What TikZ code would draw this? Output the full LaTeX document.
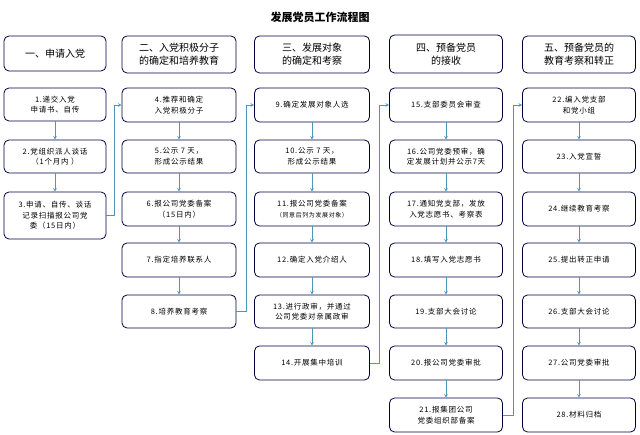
\documentclass[tikz,border=0pt]{standalone}
\usepackage{fontspec}
\setmainfont{Noto Sans CJK SC}
\newfontfamily\spaced[LetterSpace=10]{Noto Sans CJK SC}
\begin{document}
\begin{tikzpicture}[x=1pt,y=-1pt,
 box/.style={draw=black!75!blue,line width=0.8pt,rounded corners=5pt,align=center,font=\spaced\fontsize{7.5}{10.5}\selectfont,inner sep=0pt},
 hd/.style={box,font=\fontsize{10}{13}\selectfont},
 ar/.style={draw=blue!30!cyan!60!black!70,line width=0.6pt,->,>=stealth}]
\useasboundingbox (0,0) rectangle (640,435);
\fill[white] (0,0) rectangle (640,435);
\node[font=\fontsize{11}{13}\selectfont\bfseries] (title) at (320,17) {发展党员工作流程图};
\newcommand\mybx[6]{\node[box,minimum width=#5,minimum height=#4-#3] (#1) at (#2,{(#3+#4)/2}) {#6};}
\newcommand\myhd[6]{\node[hd,minimum width=#5,minimum height=#4-#3] (#1) at (#2,{(#3+#4)/2}) {#6};}
\myhd{h1}{55}{36}{71}{102}{一、申请入党}
\myhd{h2}{179}{36}{73}{114}{二、入党积极分子\\的确定和培养教育}
\myhd{h3}{312}{36}{73}{115}{三、发展对象\\的确定和考察}
\myhd{h4}{446}{35}{73}{113}{四、预备党员\\的接收}
\myhd{h5}{579}{36}{73}{113}{五、预备党员的\\教育考察和转正}
% col1
\mybx{b1}{55}{88}{121}{102}{1.递交入党\\申请书、自传}
\mybx{b2}{55}{140}{173}{102}{2.党组织派人谈话\\（1个月内 ）}
\mybx{b3}{55}{192}{239}{102}{3.申请、自传、谈话\\记录扫描报公司党\\委（15日内）}
% col2
\mybx{b4}{179}{88}{122}{114}{4.推荐和确定\\入党积极分子}
\mybx{b5}{179}{140}{173}{114}{5.公示 7 天，\\形成公示结果}
\mybx{b6}{179}{192}{226}{114}{6.报公司党委备案\\（15日内）}
\mybx{b7}{179}{243}{277}{114}{7.指定培养联系人}
\mybx{b8}{179}{295}{328}{114}{8.培养教育考察}
% col3
\mybx{b9}{312}{88}{122}{115}{9.确定发展对象人选}
\mybx{b10}{312}{140}{173}{115}{10.公示 7 天，\\形成公示结果}
\mybx{b11}{312}{192}{226}{115}{11.报公司党委备案\\{\fontsize{6}{8}\selectfont（同意后列为发展对象）}}
\mybx{b12}{312}{243}{277}{115}{12.确定入党介绍人}
\mybx{b13}{312}{295}{328}{115}{13.进行政审，并通过\\公司党委对亲属政审}
\mybx{b14}{312}{346}{380}{115}{14.开展集中培训}
% col4
\mybx{b15}{446}{88}{122}{113}{15.支部委员会审查}
\mybx{b16}{446}{140}{173}{113}{16.公司党委预审，确\\定发展计划并公示7天}
\mybx{b17}{446}{192}{226}{113}{17.通知党支部，发放\\入党志愿书、考察表}
\mybx{b18}{446}{243}{277}{113}{18.填写入党志愿书}
\mybx{b19}{446}{295}{328}{113}{19.支部大会讨论}
\mybx{b20}{446}{346}{380}{113}{20.报公司党委审批}
\mybx{b21}{446}{398}{432}{113}{21.报集团公司\\党委组织部备案}
% col5
\mybx{b22}{579}{88}{122}{113}{22.编入党支部\\和党小组}
\mybx{b23}{579}{140}{173}{113}{23.入党宣誓}
\mybx{b24}{579}{192}{226}{113}{24.继续教育考察}
\mybx{b25}{579}{243}{277}{113}{25.提出转正申请}
\mybx{b26}{579}{295}{328}{113}{26.支部大会讨论}
\mybx{b27}{579}{346}{380}{113}{27.公司党委审批}
\mybx{b28}{579}{398}{432}{113}{28.材料归档}
\foreach \a/\b in {b1/b2,b2/b3,b4/b5,b5/b6,b6/b7,b7/b8,b9/b10,b10/b11,b11/b12,b12/b13,b13/b14,b15/b16,b16/b17,b17/b18,b18/b19,b19/b20,b20/b21,b22/b23,b23/b24,b24/b25,b25/b26,b26/b27,b27/b28}
  \draw[ar] (\a) -- (\b);
\draw[ar] (b3.east) -- ++(8,0) |- (b4.west);
\draw[ar] (b8.east) -- ++(10,0) |- (b9.west);
\draw[ar] (b14.east) -- ++(9,0) |- (b15.west);
\draw[ar] (b21.east) -- ++(10,0) |- (b22.west);
\end{tikzpicture}
\end{document}
